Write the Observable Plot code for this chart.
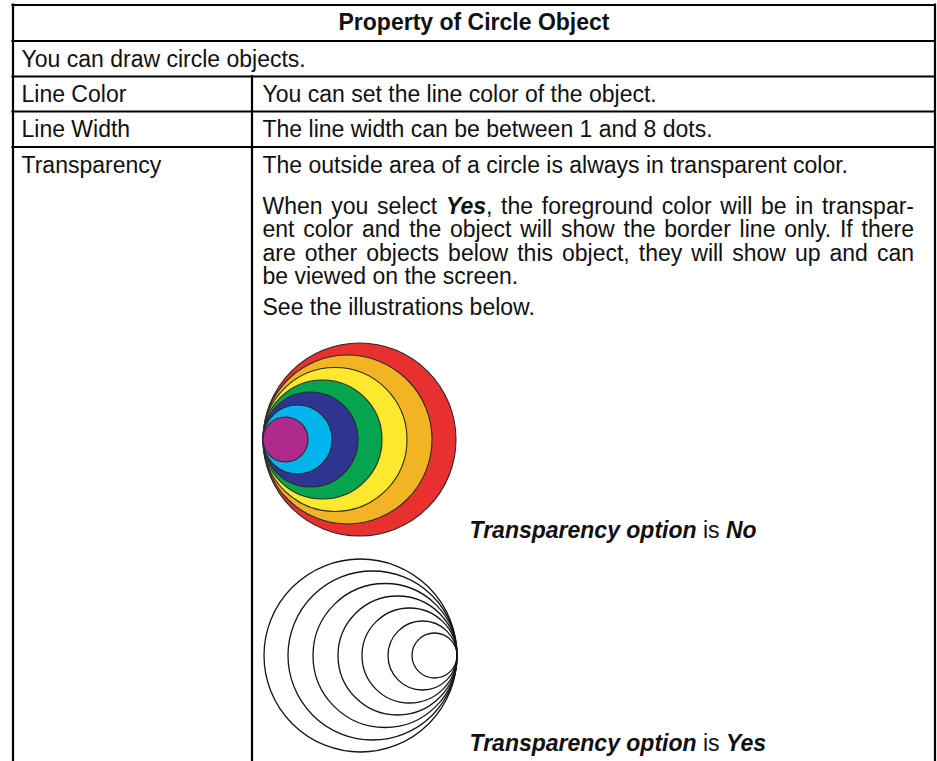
<!DOCTYPE html>
<html>
<head>
<meta charset="utf-8">
<script src="https://cdn.jsdelivr.net/npm/d3@7"></script>
<script src="https://cdn.jsdelivr.net/npm/@observablehq/plot@0.6"></script>
<style>
  html, body { margin: 0; padding: 0; background: #fff; }
  svg { display: block; }
</style>
</head>
<body>
<div id="chart"></div>
<script>
// ---------- content ----------
const tableTitle = "Property of Circle Object";
const tableIntro = "You can draw circle objects.";
const propertyNames = ["Line Color", "Line Width", "Transparency"];
const lineColorText = ["You can set the line color of the object."];
const lineWidthText = ["The line width can be between 1 and 8 dots."];
const transparencyParagraphs = [
  ["The outside area of a circle is always in transparent color."],
  ["When you select *Yes*, the foreground color will be in transpar-",
   "ent color and the object will show the border line only. If there",
   "are other objects below this object, they will show up and can",
   "be viewed on the screen."],
  ["See the illustrations below."]
];
const captionNo = "*Transparency option* is *No*";
const captionYes = "*Transparency option* is *Yes*";
const circleRadii = [96.5, 84.5, 72, 59.5, 47.5, 34.5, 22.5];
const circleColors = ["#e8312e", "#f2b422", "#fce82c", "#05a44f", "#2e3591", "#00b5ec", "#ae2a8d"];

// ---------- layout ----------
const W = 937, H = 761;
const FS = 23;
const FONT = "Liberation Sans";
const box = { left: 12.5, right: 934.5, top: 4.5, col: 251.5 };
const rowBottoms = [40.5, 76, 111, 146.5];
const rowMid = { title: 22, intro: 59, color: 94, width: 129, transp: 165 };
const padL = 8.5, padC = 10.5, padR = 21;
const paraLineStep = 23.5, paraStarts = [165, 206, 307];
const ring = { left: 262.5, right: 456.5, yNo: 439, yYes: 655 };
const capY = { no: 530, yes: 743 };

// ---------- text measuring / justification ----------
const ctx = document.createElement("canvas").getContext("2d");
function fontStr(b) { return `${b ? "italic bold " : ""}${FS}px "${FONT}"`; }
function measure(t, b) { ctx.font = fontStr(b); return ctx.measureText(t).width; }
function parseSegments(line) {
  return line.split("*").map((t, i) => ({ t, b: i % 2 === 1 })).filter(s => s.t);
}
function layoutLine(line, x0, y, width, justify, out) {
  const words = []; let cur = [];
  for (const s of parseSegments(line)) {
    s.t.split(" ").forEach((p, i) => {
      if (i > 0) { if (cur.length) words.push(cur); cur = []; }
      if (p) cur.push({ t: p, b: s.b });
    });
  }
  if (cur.length) words.push(cur);
  const ww = words.map(w => d3.sum(w, s => measure(s.t, s.b)));
  const space = measure(" ", false);
  let gap = justify && words.length > 1 ? (width - d3.sum(ww)) / (words.length - 1) : space;
  if (gap < space * 0.8) gap = space * 0.8;
  let x = x0;
  words.forEach((w, i) => {
    let sx = x;
    for (const s of w) { out.push({ x: sx, y, text: s.t, b: s.b }); sx += measure(s.t, s.b); }
    x += ww[i] + gap;
  });
}

const words = [];
const textX = box.col + padC;
const textW = box.right - padR - textX;
layoutLine(lineColorText[0], textX, rowMid.color, textW, false, words);
layoutLine(lineWidthText[0], textX, rowMid.width, textW, false, words);
transparencyParagraphs.forEach((para, p) => {
  para.forEach((line, i) => {
    const last = i === para.length - 1;
    layoutLine(line, textX, paraStarts[p] + i * paraLineStep, textW, !last, words);
  });
});
const capX = ring.right + 12.5;
layoutLine(captionNo, capX, capY.no, 0, false, words);
layoutLine(captionYes, capX, capY.yes, 0, false, words);

const leftLabels = [
  { x: box.left + padL, y: rowMid.intro, text: tableIntro },
  ...propertyNames.map((n, i) => ({ x: box.left + padL, y: [rowMid.color, rowMid.width, rowMid.transp][i], text: n }))
];

// ---------- rules ----------
const hLines = [box.top, ...rowBottoms].map(y => ({ y, x1: box.left, x2: box.right }));
const vLines = [
  { x: box.left, y1: box.top, y2: H },
  { x: box.right, y1: box.top, y2: H },
  { x: box.col, y1: rowBottoms[1], y2: H }
];

const rings = circleRadii.map((r, i) => ({ r, color: circleColors[i] }));

const textCommon = { fontSize: FS, fontFamily: FONT, textAnchor: "start", lineAnchor: "middle", fill: "#111" };

const chart = Plot.plot({
  width: W, height: H, margin: 0,
  style: { background: "#fff", fontFamily: FONT },
  x: { type: "linear", domain: [0, W], range: [0, W], axis: null },
  y: { type: "linear", domain: [0, H], range: [0, H], axis: null },
  r: { type: "linear", domain: [0, 100], range: [0, 100] },
  color: { type: "identity" },
  marks: [
    Plot.dot(rings, { x: d => ring.left + d.r, y: ring.yNo, r: "r", fill: "color", stroke: "#2a2a2a", strokeWidth: 1.1 }),
    Plot.dot(rings, { x: d => ring.right - d.r, y: ring.yYes, r: "r", fill: "none", stroke: "#151515", strokeWidth: 1.3 }),
    Plot.ruleY(hLines, { y: "y", x1: "x1", x2: "x2", stroke: "#000", strokeWidth: 2.2, strokeLinecap: "square" }),
    Plot.ruleX(vLines, { x: "x", y1: "y1", y2: "y2", stroke: "#000", strokeWidth: 2.2, strokeLinecap: "square" }),
    Plot.text([tableTitle], { x: (box.left + box.right) / 2, y: rowMid.title, text: d => d, fontSize: FS, fontFamily: FONT, fontWeight: "bold", textAnchor: "middle", lineAnchor: "middle", fill: "#111" }),
    Plot.text(leftLabels, { x: "x", y: "y", text: "text", ...textCommon }),
    Plot.text(words.filter(d => !d.b), { x: "x", y: "y", text: "text", ...textCommon }),
    Plot.text(words.filter(d => d.b), { x: "x", y: "y", text: "text", ...textCommon, fontWeight: "bold", fontStyle: "italic" })
  ]
});
document.getElementById("chart").append(chart);
</script>
</body>
</html>
